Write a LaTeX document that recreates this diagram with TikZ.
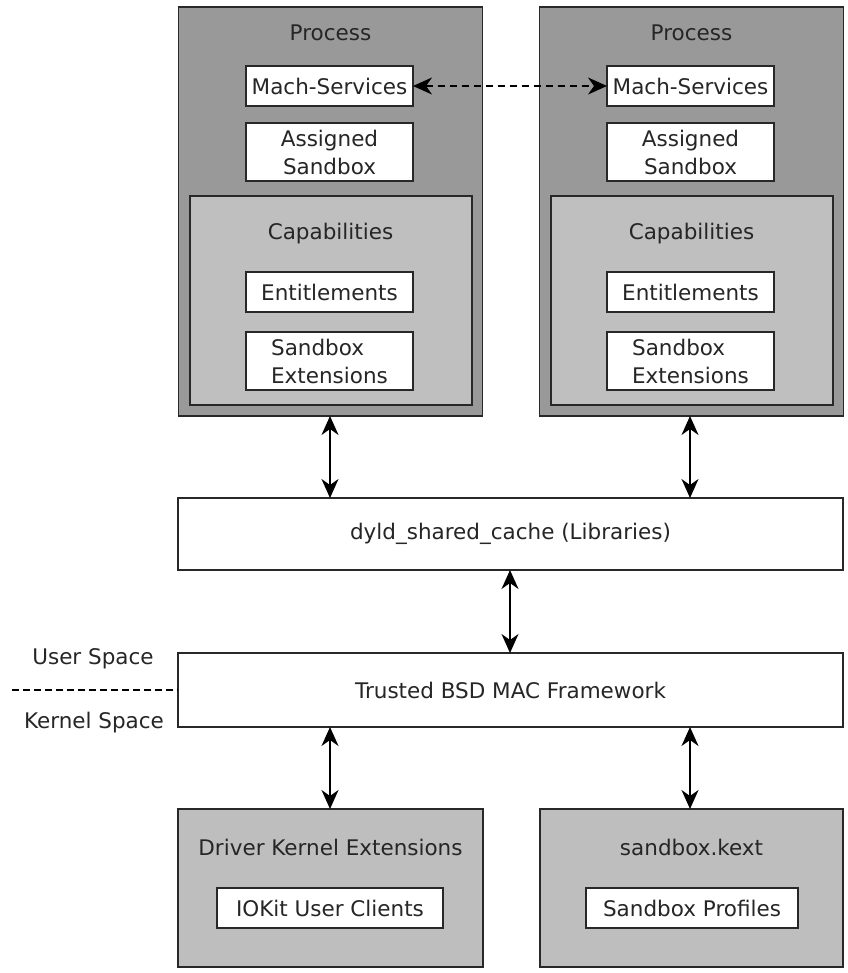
\documentclass[tikz,border=0pt]{standalone}
\usepackage{fontspec}
\setmainfont{DejaVu Sans}
\usetikzlibrary{arrows.meta}
\definecolor{procgray}{RGB}{153,153,153}
\definecolor{capgray}{RGB}{191,191,191}
\definecolor{kextgray}{RGB}{190,190,190}
\definecolor{edge}{RGB}{40,40,40}
\begin{document}
\begin{tikzpicture}[x=1pt,y=-1pt,
  box/.style={draw=edge,line width=1.4pt,inner sep=0pt,outer sep=0pt,
    font=\fontsize{21.5}{28}\selectfont,text=black!85},
  procbox/.style={box,fill=procgray},
  capbox/.style={box,fill=capgray},
  kextbox/.style={box,fill=kextgray},
  item/.style={box,fill=white,align=center},
  lbl/.style={inner sep=0pt,font=\fontsize{21.5}{28}\selectfont,text=black!85},
  link/.style={line width=1.4pt,{Stealth[length=19pt,width=17pt,inset=6pt]}-{Stealth[length=19pt,width=17pt,inset=6pt]}},
  ipc/.style={link,dashed,dash pattern=on 7pt off 5pt}]
\useasboundingbox (0,0) rectangle (847,973);

% two process containers
\foreach \side/\cx in {L/330.5,R/691.5}{
  \node[procbox,minimum width=304pt,minimum height=409pt] (proc\side) at (\cx,211.5) {};
  \node[lbl] (proclbl\side) at (\cx,33) {Process};
  \node[item,minimum width=167pt,minimum height=40pt] (mach\side) at (\cx-1,86) {Mach-Services};
  \node[item,minimum width=167pt,minimum height=58pt] (assign\side) at (\cx-1,152) {Assigned\\Sandbox};
  \node[capbox,minimum width=282pt,minimum height=209pt] (cap\side) at (\cx+0.5,300.5) {};
  \node[lbl] (caplbl\side) at (\cx,234) {Capabilities};
  \node[item,minimum width=167pt,minimum height=40pt] (ent\side) at (\cx-1,292) {Entitlements};
  \node[item,minimum width=167pt,minimum height=58pt,align=left] (ext\side) at (\cx-1,361) {Sandbox\\Extensions};
}

% shared layers
\node[box,fill=white,minimum width=665pt,minimum height=72pt] (dyld) at (510.5,534) {dyld\_shared\_cache (Libraries)};
\node[box,fill=white,minimum width=665pt,minimum height=74pt] (mac) at (510.5,690) {Trusted BSD MAC Framework};

% user/kernel boundary
\node[lbl] (user) at (93,659) {User Space};
\node[lbl] (kernel) at (94,723) {Kernel Space};
\coordinate (bound) at (12,690);
\draw[line width=1.2pt,dashed,dash pattern=on 7pt off 4pt] (bound) -- (mac.west);

% kernel extensions
\node[kextbox,minimum width=305pt,minimum height=158pt] (driver) at (330.5,888) {};
\node[lbl] (driverlbl) at (330.5,847) {Driver Kernel Extensions};
\node[item,minimum width=226pt,minimum height=40pt] (iokit) at (330,908) {IOKit User Clients};
\node[kextbox,minimum width=303pt,minimum height=158pt] (sbkext) at (691.5,888) {};
\node[lbl] (sbkextlbl) at (691.5,847) {sandbox.kext};
\node[item,minimum width=212pt,minimum height=40pt] (profiles) at (692,908) {Sandbox Profiles};

% connectors
\draw[ipc] (machL.east) -- (machR.west);
\draw[link] (procL.south -| 330,0) -- (dyld.north -| 330,0);
\draw[link] (procR.south -| 690,0) -- (dyld.north -| 690,0);
\draw[link] (dyld.south -| 510,0) -- (mac.north -| 510,0);
\draw[link] (mac.south -| 330,0) -- (driver.north -| 330,0);
\draw[link] (mac.south -| 690,0) -- (sbkext.north -| 690,0);
\end{tikzpicture}
\end{document}
